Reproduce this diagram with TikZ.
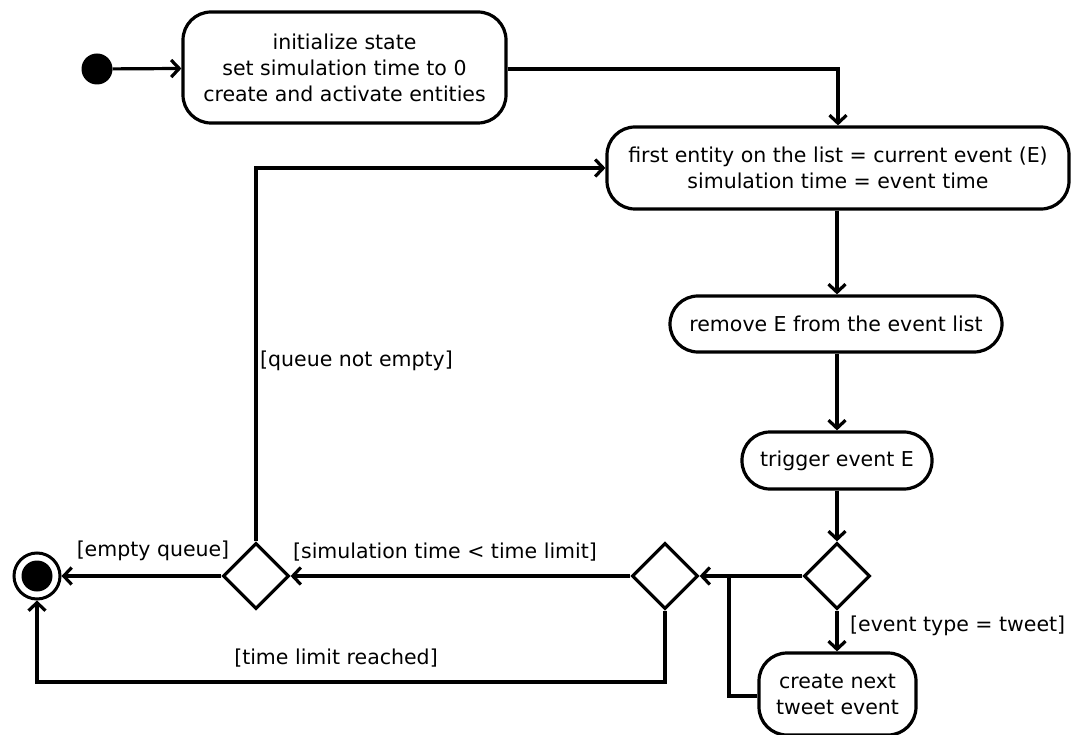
\documentclass[tikz,border=0pt]{standalone}
\usepackage{fontspec}
\setmainfont{DejaVu Sans}
\usetikzlibrary{arrows.meta,shapes.geometric}
\begin{document}
\begin{tikzpicture}[x=1pt,y=-1pt,
  every node/.style={font=\fontsize{20.5}{26}\selectfont},
  act/.style={draw,line width=3.2pt,rounded corners=28pt,align=center,inner sep=0pt},
  dec/.style={draw,diamond,line width=3.2pt,minimum width=66pt,minimum height=66pt,inner sep=0pt},
  flow/.style={line width=3.2pt,-{Straight Barb[length=8pt,width=17pt,line width=3.2pt]}},
  plain/.style={line width=3.2pt},
  lbl/.style={inner sep=0pt}]
\useasboundingbox (0,0) rectangle (1071,735);
\node[circle,fill=black,minimum size=31pt,inner sep=0pt] (start) at (97,69) {};
\node[act,minimum width=323pt,minimum height=111pt] (init) at (344.5,67.5)
  {initialize state\\set simulation time to 0\\create and activate entities};
\node[act,minimum width=462pt,minimum height=82pt] (first) at (838,168)
  {first entity on the list = current event (E)\\simulation time = event time};
\node[act,minimum width=332pt,minimum height=56pt] (remove) at (836,324)
  {remove E from the event list};
\node[act,minimum width=190pt,minimum height=57pt] (trigger) at (837,460.5)
  {trigger event E};
\node[dec] (d1) at (837,576) {};
\node[dec] (d2) at (665,576) {};
\node[dec] (d3) at (256,576) {};
\node[act,minimum width=157pt,minimum height=82pt] (create) at (837.5,694)
  {create next\\tweet event};
\node[circle,draw,line width=3pt,minimum size=46pt,inner sep=0pt] (final) at (37,576) {};
\node[circle,fill=black,minimum size=31pt,inner sep=0pt] (finalin) at (37,576) {};
\coordinate (c1) at (838,69);
\coordinate (c2) at (729,576);
\coordinate (c3) at (729,696);
\coordinate (c4) at (665,682);
\coordinate (c5) at (37,682);
\coordinate (c6) at (256,168);

\draw[flow] (start) -- (init);
\draw[flow] (init.east |- c1) -- (c1) -- (first.north -| c1);
\draw[flow] (first.south -| trigger) -- (remove.north -| trigger);
\draw[flow] (remove.south -| trigger) -- (trigger.north);
\draw[flow] (trigger.south) -- (d1.north);
\draw[flow] (d1.south) -- (create.north -| d1);
\draw[flow] (d1.west) -- (d2.east);
\draw[plain] (create.west |- c3) -- (c3) -- (c2);
\draw[flow] (d2.west) -- (d3.east);
\draw[flow] (d2.south) -- (c4) -- (c5) -- (final.south);
\draw[flow] (d3.west) -- (final.east);
\draw[flow] (d3.north) -- (c6) -- (first.west |- c6);

\node[lbl,anchor=west] (l1) at (850,626) {[event type = tweet]};
\node[lbl] (l2) at (445,552) {[simulation time < time limit]};
\node[lbl] (l3) at (153,551) {[empty queue]};
\node[lbl] (l4) at (336,658) {[time limit reached]};
\node[lbl,anchor=west] (l5) at (260,361) {[queue not empty]};
\end{tikzpicture}
\end{document}
